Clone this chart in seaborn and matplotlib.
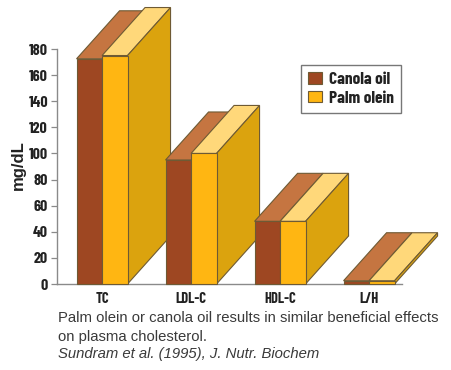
import matplotlib
matplotlib.use("Agg")
import matplotlib.pyplot as plt
from matplotlib.patches import Polygon, Patch
import pandas as pd
import seaborn as sns

categories = ["TC", "LDL-C", "HDL-C", "L/H"]
canola_oil = [172.5, 95, 48, 2.5]
palm_olein = [175, 100, 48, 2.5]
yticks = list(range(0, 181, 20))
caption = ["Palm olein or canola oil results in similar beneficial effects",
           "on plasma cholesterol."]
citation = "Sundram et al. (1995), J. Nutr. Biochem"

W, H = 452, 370
sns.set_style("white")
plt.rcParams["font.family"] = ["Barlow Condensed", "Liberation Sans", "DejaVu Sans"]

df = pd.DataFrame({
    "cat": categories * 2,
    "val": canola_oil + palm_olein,
    "oil": ["Canola oil"] * 4 + ["Palm olein"] * 4,
})
FRONT = {"Canola oil": "#9E4722", "Palm olein": "#FFB612"}
TOP = {"Canola oil": "#C57541", "Palm olein": "#FFD87A"}
SIDE = "#DBA30E"
EDGE = "#6E5A34"

fig = plt.figure(figsize=(W / 100, H / 100), dpi=100)
ax = fig.add_axes([57 / W, 1 - 284 / H, 345 / W, 235 / H])
sns.barplot(data=df, x="cat", y="val", hue="oil", palette=FRONT, width=0.573,
            gap=0, dodge=True, saturation=1, legend=False, ax=ax,
            edgecolor=EDGE, linewidth=0.8)
ax.set_xlim(-0.506, 3.37)
ax.set_ylim(0, 180)

px_x = 89.0
px_y = 235 / 180
dx, dy = 43 / px_x, 48 / px_y

bars = [p for c in ax.containers for p in c.patches]
n = len(categories)
for i in range(n):
    base = 10 + i * 10
    can, palm = bars[i], bars[i + n]
    for j, (bar, oil) in enumerate(((can, "Canola oil"), (palm, "Palm olein"))):
        x0, x1 = bar.get_x(), bar.get_x() + bar.get_width()
        h = bar.get_height()
        ax.add_patch(Polygon([(x0, h), (x1, h), (x1 + dx, h + dy), (x0 + dx, h + dy)],
                             facecolor=TOP[oil], edgecolor=EDGE, lw=0.8,
                             zorder=base + j, clip_on=False))
        bar.set_zorder(base + 3 + j)
        bar.set_clip_on(False)
    x1 = palm.get_x() + palm.get_width()
    h = palm.get_height()
    ax.add_patch(Polygon([(x1, 0), (x1, h), (x1 + dx, h + dy), (x1 + dx, dy)],
                         facecolor=SIDE, edgecolor=EDGE, lw=0.8,
                         zorder=base + 2, clip_on=False))

for s in ("top", "right"):
    ax.spines[s].set_visible(False)
for s in ("left", "bottom"):
    ax.spines[s].set_color("#8A8A8A")
    ax.spines[s].set_linewidth(1.0)
ax.set_yticks(yticks)
ax.tick_params(axis="y", length=4.0, width=0.9, color="#8A8A8A", pad=2.5,
               labelsize=11.5, left=True, labelcolor="#222222")
ax.tick_params(axis="x", length=0, pad=6, labelsize=10.5, labelcolor="#222222")
for t in ax.get_yticklabels() + ax.get_xticklabels():
    t.set_fontweight("bold")
ax.set_xlabel("")
ax.set_ylabel("")
fig.text(18 / W, 1 - 165 / H, "mg/dL", rotation=90, ha="center", va="center",
         fontsize=12, fontweight="bold", color="#222222",
         family=["Liberation Sans", "DejaVu Sans"])

handles = [Patch(facecolor=FRONT[k], edgecolor=EDGE, lw=0.8, label=k) for k in FRONT]
leg = fig.legend(handles=handles, loc="upper left",
                 bbox_to_anchor=(301 / W, 1 - 65 / H), bbox_transform=fig.transFigure,
                 frameon=True, fancybox=False, edgecolor="#777777", framealpha=1,
                 borderaxespad=0, prop={"weight": "bold", "size": 12.5},
                 handlelength=0.8, handleheight=0.65, handletextpad=0.4,
                 labelspacing=0.2, borderpad=0.42, labelcolor="#222222")
leg.get_frame().set_linewidth(1.0)
leg.set_zorder(100)

cap_fam = ["Liberation Sans", "DejaVu Sans"]
for txt, y in zip(caption, (318, 336.5)):
    fig.text(58 / W, 1 - y / H, txt, fontsize=10.68, color="#3A3A3A", family=cap_fam,
             ha="left", va="center")
fig.text(58 / W, 1 - 354 / H, citation, fontsize=10.68, color="#3A3A3A", family=cap_fam,
         style="italic", ha="left", va="center")

fig.savefig("out.png", dpi=100)
